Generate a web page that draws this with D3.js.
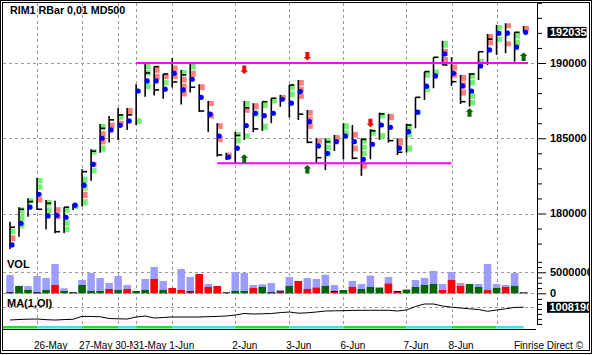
<!DOCTYPE html>
<html>
<head>
<meta charset="utf-8">
<script src="https://cdn.jsdelivr.net/npm/d3@7"></script>
<style>
  body { margin: 0; background: #fff; }
  svg { display: block; }
  text { font-family: "Liberation Sans", Arial, sans-serif; }
</style>
</head>
<body>
<div id="chart"></div>
<script>
// sessions (first bar index of each day) and their labels
const sessionStart = [0, 3, 8, 12, 14, 18, 25, 31, 37, 44, 49, 54];
const sessionLabel = ["", "26-May", "27-May", "30-May", "31-May", "1-Jun", "2-Jun", "3-Jun", "6-Jun", "7-Jun", "8-Jun", ""];

// price bars
const highs = [179460, 180420, 181010, 182360, 180900, 180850, 180420, 180630, 182940, 184270,
  185950, 186480, 187010, 187010, 188590, 189980, 189760, 189270, 190320, 189540,
  189980, 188590, 187480, 186000, 184040, 185420, 187480, 187330, 187430, 187660,
  187880, 188540, 188870, 186880, 184990, 184990, 185220, 186000, 185880, 184990,
  185600, 186700, 186620, 184990, 185950, 187720, 189430, 190380, 191470, 190380,
  189210, 189320, 190750, 191930, 192530, 192640, 192040, 192460];
const lows = [177640, 178460, 179790, 180240, 178950, 178690, 178690, 180240, 180460, 182180,
  184040, 184710, 184890, 185550, 185880, 187760, 187840, 187630, 188380, 187250,
  188040, 186750, 185420, 183780, 183560, 183340, 184890, 185400, 185490, 186000,
  187100, 186380, 186220, 184670, 183340, 182890, 184160, 183600, 183600, 182500,
  183600, 184890, 184710, 183890, 184040, 185660, 187550, 188320, 189870, 188480,
  187280, 187100, 188870, 189870, 190540, 190650, 190090, 192035];
const closeTicks = [179090, 180280, 180790, 180280, 180680, 178790, 180420, null, 182780, 184140,
  185660, 186220, 186550, 186550, null, 189340, 188210, 189270, 188740, 189210,
  188390, 186810, null, 183890, null, 185190, 187030, 185620, 187430, 187660,
  null, 188540, 186600, 184730, 183710, 184770, null, null, 183670, 184930,
  185490, 186620, 184840, 184070, 185880, 187720, 189430, 190380, 189870, 188760,
  187430, 189270, 190750, 191580, null, null, 192040, null];
const openTicks = closeTicks.map(() => null);
openTicks[16] = 189760;
openTicks[20] = 189980;
const dots = [177910, 179350, 180420, 181280, 179840, 179880, 179750, 180550, 181880, 183270,
  185000, 185550, 185860, 186150, 188140, 188810, 188810, 188260, 189320, 188210,
  188920, 187720, 186600, 185150, 183740, 184340, 185840, 186660, 186500, 186660,
  187590, 187330, 188100, 186100, 184490, 184000, 184770, 185150, 184770, 183600,
  184600, 185880, 185730, 184340, 185440, 186730, 188460, 189140, 190600, 189320,
  188480, 188140, 189800, 190870, 191980, 191980, 191050, 192035];
// cells from high to low: g = up, p = down, - = empty
const profile = ["-gp-", "ggg-", "g--", "gg-p-", "gg--", "-pp--", "g-gg", "g", "-ggpg", "g-pg-",
  "gppg", "-p--", "-gp--", "p--", "-----g", "gg-g-", "pp--", "pg--", "-pp-", "gppp-",
  "gp--", "p---", "p-p--", "p-p--", "p", "gg---", "gp---g", "pg--", "g--g", "g---",
  "p-", "gg---", "ppp---", "ppp--", "p---", "ggg--", "p-", "gg---", "-p-p-", "ggg-p-",
  "g---", "g--g", "p---", "p-", "gg-g", "--g--", "g-g-", "--g--", "gpp", "-pp-",
  "ppp-", "gg-gg", "-g--", "pp---", "ggg--", "p--p-", "gg--", "p"];

// volume, millions
const volume = [4.37, 1.75, 1.75, 4.13, 3.65, 6.98, 1.19, 0.2, 3.17, 4.84,
  3.65, 2.46, 4.13, 1.98, 0.56, 3.41, 6.27, 2.94, 1.27, 5.79,
  3.89, 4.6, 2.22, 1.75, 0, 5.08, 4.84, 1.98, 2.14, 2.46,
  0.79, 3.89, 2.94, 3.65, 3.41, 4.44, 1.98, 0.79, 2.94, 2.22,
  4.21, 1.51, 3.89, 0.56, 1.03, 3.17, 3.65, 5.32, 2.22, 5.08,
  2.46, 2.22, 2.22, 6.98, 2.22, 1.98, 4.84, 0];
const volDelta = [0, 1.75, 0.79, 0, 0.79, -1.98, 0.56, 0, 1.98, 0.56,
  0.56, -1.03, 0.79, -1.03, 0.56, 0.79, -3.41, 0.79, -1.27, -0.79,
  -0.24, -4.6, -1.51, -1.75, 0, 0.56, 0.56, -1.27, 1.51, 0,
  -0.24, 1.75, -2.94, -1.03, -1.35, 1.75, -0.32, 0.79, -1.51, 1.03,
  1.51, 1.27, -2.3, -0.32, 0.79, 1.51, 1.98, 2.22, -0.79, -3.17,
  -1.75, 2.22, 1.51, -0.79, 1.27, -1.51, 1.75, 0];

// MA(1,OI)
const openInterest = [982790, 983790, 984390, 984790, 983390, 982790, 983590, 984190, 990190, 989790,
  989390, 985790, 985190, 984790, 988790, 990790, 986790, 987790, 988790, 988790,
  988790, 988790, 989390, 989990, 990790, 992790, 995790, 994790, 995190, 995790,
  997590, 998790, 996390, 997190, 998790, 1000790, 1001190, 1001390, 1001990, 1002190,
  1002190, 1002190, 1002190, 1000790, 1002790, 1009790, 1014790, 1014790, 1010790, 1008390,
  1006790, 1005190, 1003790, 1000190, 1002790, 1005190, 1007990, 1008190];

const sellArrows = [{bar: 26, price: 189270}, {bar: 33, price: 190160}, {bar: 40, price: 185730}];
const buyArrows = [{bar: 26, price: 183940}, {bar: 33, price: 183230}, {bar: 51, price: 186990}, {bar: 57, price: 190690}];
const levels = [{price: 190000, from: 14, to: 57.5}, {price: 183340, from: 23, to: 49}];

const lastPrice = 192035, lastOI = 1008190;

const width = 592, height = 355;
const pLeft = 3, pRight = 537.5, pTop = 3, gridBottom = 326;
const gridColor = "#999";

const svg = d3.select("#chart").append("svg")
  .attr("width", width).attr("height", height);

const defs = svg.append("defs");
defs.append("clipPath").attr("id", "clipR")
  .append("rect").attr("x", 0).attr("y", 0).attr("width", 589).attr("height", height);

const x = d3.scaleLinear().domain([0, 57]).range([10, 523.6]);
const yPrice = d3.scaleLinear().domain([180000, 190000]).range([213.5, 63]);
const yVol = d3.scaleLinear().domain([0, 5]).range([293.3, 272.3]);
const yOI = d3.scaleLinear().domain([lastOI - 20000, lastOI + 20000]).range([317.3, 297.3]);

//grille
const grid = svg.append("g").attr("stroke", gridColor).attr("stroke-dasharray", "3,3");
grid.selectAll("line.v")
  .data(sessionStart.slice(1))
  .enter().append("line")
  .attr("x1", d => Math.round(x(d)) + 0.5).attr("x2", d => Math.round(x(d)) + 0.5)
  .attr("y1", pTop).attr("y2", gridBottom);
const hLines = [180000, 185000, 190000].map(p => yPrice(p))
  .concat([yVol(0), yVol(5), yOI(lastOI)]);
grid.selectAll("line.h")
  .data(hLines)
  .enter().append("line")
  .attr("x1", pLeft).attr("x2", pRight)
  .attr("y1", d => Math.round(d) + 0.5).attr("y2", d => Math.round(d) + 0.5);

//volume
const idx = d3.range(volume.length);
svg.append("g").selectAll("rect")
  .data(idx.filter(i => volume[i] > 0))
  .enter().append("rect")
  .attr("x", i => x(i) - 3.75).attr("width", 7.5)
  .attr("y", i => yVol(volume[i])).attr("height", i => yVol(0) - yVol(volume[i]))
  .attr("fill", "#9d9dff");
svg.append("g").selectAll("rect")
  .data(idx.filter(i => volDelta[i] !== 0))
  .enter().append("rect")
  .attr("x", i => x(i) - 3.75).attr("width", 7.5)
  .attr("y", i => yVol(Math.abs(volDelta[i]))).attr("height", i => yVol(0) - yVol(Math.abs(volDelta[i])))
  .attr("fill", i => volDelta[i] > 0 ? "#006600" : "#ff0000");
svg.append("g").selectAll("line")
  .data(idx.filter(i => volDelta[i] === 0 || Math.abs(volDelta[i]) < 0.4))
  .enter().append("line")
  .attr("x1", i => x(i) - 3.75).attr("x2", i => x(i) + 3.75)
  .attr("y1", i => yVol(Math.abs(volDelta[i])) - 0.5).attr("y2", i => yVol(Math.abs(volDelta[i])) - 0.5)
  .attr("stroke", "#000").attr("stroke-width", 1);

//cellules
const cells = [];
profile.forEach((s, i) => {
  const t = yPrice(highs[i]), b = yPrice(lows[i]);
  const step = (b - t) / s.length;
  s.split("").forEach((c, k) => {
    if (c !== "-") cells.push({i, y: t + k * step, h: Math.max(1.5, step - 1), c});
  });
});
svg.append("g").selectAll("rect")
  .data(cells)
  .enter().append("rect")
  .attr("x", d => x(d.i) + 0.5).attr("width", 5)
  .attr("y", d => d.y).attr("height", d => d.h)
  .attr("fill", d => d.c === "g" ? "#74f074" : "#ff7f7f");

//barres
const bars = svg.append("g").attr("stroke", "#000").attr("stroke-width", 1.6);
bars.selectAll("line.hl")
  .data(idx)
  .enter().append("line")
  .attr("x1", i => x(i)).attr("x2", i => x(i))
  .attr("y1", i => yPrice(highs[i])).attr("y2", i => yPrice(lows[i]));
bars.selectAll("line.c")
  .data(idx.filter(i => closeTicks[i] !== null))
  .enter().append("line")
  .attr("x1", i => x(i)).attr("x2", i => x(i) + 5)
  .attr("y1", i => yPrice(closeTicks[i])).attr("y2", i => yPrice(closeTicks[i]));
bars.selectAll("line.o")
  .data(idx.filter(i => openTicks[i] !== null))
  .enter().append("line")
  .attr("x1", i => x(i)).attr("x2", i => x(i) + 5)
  .attr("y1", i => yPrice(openTicks[i])).attr("y2", i => yPrice(openTicks[i]));

svg.append("g").selectAll("circle")
  .data(idx)
  .enter().append("circle")
  .attr("cx", i => x(i) + 2).attr("cy", i => yPrice(dots[i]))
  .attr("r", 2.6).attr("fill", "#0000ff");

//niveaux
svg.append("g").selectAll("line")
  .data(levels)
  .enter().append("line")
  .attr("x1", d => x(d.from)).attr("x2", d => x(d.to))
  .attr("y1", d => yPrice(d.price)).attr("y2", d => yPrice(d.price))
  .attr("stroke", "#ff00ff").attr("stroke-width", 2);

//fleches
const downArrow = "M-2,-8.5h4v5h1.8L0,0L-3.8,-3.5h1.8Z";
const upArrow = "M-2,8.5h4v-5h1.8L0,0L-3.8,3.5h1.8Z";
svg.append("g").selectAll("path")
  .data(sellArrows)
  .enter().append("path")
  .attr("transform", d => `translate(${x(d.bar)},${yPrice(d.price)})`)
  .attr("d", downArrow).attr("fill", "#ff0000");
svg.append("g").selectAll("path")
  .data(buyArrows)
  .enter().append("path")
  .attr("transform", d => `translate(${x(d.bar)},${yPrice(d.price)})`)
  .attr("d", upArrow).attr("fill", "#006400");

//MA(1,OI)
svg.append("path")
  .datum(idx)
  .attr("fill", "none").attr("stroke", "#000").attr("stroke-width", 1)
  .attr("d", d3.line().x(i => x(i)).y(i => yOI(openInterest[i])));

//axe droit
svg.append("line")
  .attr("x1", pRight).attr("x2", pRight).attr("y1", pTop).attr("y2", 325)
  .attr("stroke", "#000");

function rightTicks(scale, values, majors) {
  const g = svg.append("g")
    .attr("transform", `translate(${pRight - 0.5},0)`)
    .call(d3.axisRight(scale).tickValues(values).tickSize(5).tickFormat(""));
  g.select(".domain").remove();
  g.selectAll(".tick line")
    .attr("x2", d => majors.includes(d) ? 9 : 5)
    .attr("stroke", "#000");
}
rightTicks(yPrice, d3.range(178000, 194001, 1000), [180000, 185000, 190000]);
rightTicks(yVol, d3.range(0, 7.51, 1.25), [0, 5]);
rightTicks(yOI, d3.range(975000, 1025001, 10000), []);

const labels = svg.append("g").attr("clip-path", "url(#clipR)")
  .attr("font-size", "11px").attr("font-weight", "bold");
labels.selectAll("text.p")
  .data([180000, 185000, 190000])
  .enter().append("text")
  .attr("x", 550).attr("y", d => yPrice(d)).attr("dy", "0.36em")
  .text(d => d);
labels.selectAll("text.v")
  .data([0, 5])
  .enter().append("text")
  .attr("x", 550).attr("y", d => yVol(d)).attr("dy", "0.36em")
  .text(d => d === 0 ? "0" : d3.format("d")(d * 1e6));

labels.append("rect")
  .attr("x", 547.5).attr("y", yPrice(lastPrice) - 5.5).attr("width", 39).attr("height", 11)
  .attr("fill", "#000");
labels.append("text")
  .attr("x", 550).attr("y", yPrice(lastPrice)).attr("dy", "0.36em")
  .attr("fill", "#fff").text(lastPrice);
labels.append("rect")
  .attr("x", 547).attr("y", yOI(lastOI) - 5.5).attr("width", 45).attr("height", 11)
  .attr("fill", "#000");
labels.append("text")
  .attr("x", 549.5).attr("y", yOI(lastOI)).attr("dy", "0.36em")
  .attr("fill", "#fff").text(lastOI);

//titres
svg.append("text").attr("x", 10).attr("y", 13.5)
  .attr("font-size", "10.7px").attr("font-weight", "bold")
  .text("RIM1 RBar 0,01 MD500");
svg.append("text").attr("x", 7).attr("y", 268)
  .attr("font-size", "11px").attr("font-weight", "bold")
  .text("VOL");
svg.append("text").attr("x", 7).attr("y", 306.5)
  .attr("font-size", "11px").attr("font-weight", "bold")
  .text("MA(1,OI)");

//bande des sessions
svg.append("g").selectAll("rect")
  .data(sessionStart)
  .enter().append("rect")
  .attr("x", (d, k) => k === 0 ? pLeft : x(d))
  .attr("width", (d, k) => (k === sessionStart.length - 1 ? x(57) : x(sessionStart[k + 1])) - (k === 0 ? pLeft : x(d)))
  .attr("y", 326).attr("height", 2.5)
  .attr("fill", (d, k) => k % 2 === 0 ? "#20e020" : "#3fe0e0");
svg.append("line")
  .attr("x1", pLeft).attr("x2", pRight - 1.5).attr("y1", 329.5).attr("y2", 329.5)
  .attr("stroke", "#000");

//dates : chaque libellé est coupé au début du suivant
const dates = svg.append("g").attr("font-size", "10px");
const shown = sessionStart.map((d, k) => ({d, k})).filter(o => sessionLabel[o.k]);
shown.forEach((o, j) => {
  const x0 = x(o.d) - 3;
  const x1 = j < shown.length - 1 ? x(shown[j + 1].d) - 3 : 514;
  defs.append("clipPath").attr("id", "clipD" + j)
    .append("rect").attr("x", x0 - 1).attr("y", 335).attr("width", x1 - x0 + 1).attr("height", 16);
  dates.append("text")
    .attr("clip-path", `url(#clipD${j})`)
    .attr("x", x0).attr("y", 349).text(sessionLabel[o.k]);
});
svg.append("text").attr("x", 514).attr("y", 349)
  .attr("font-size", "10px").text("Finrise Direct ©");

//cadre
svg.append("rect").attr("x", 0.5).attr("y", 0.5).attr("width", 591).attr("height", 353)
  .attr("fill", "none").attr("stroke", "#000");
svg.append("rect").attr("x", 2.5).attr("y", 2.5).attr("width", 587).attr("height", 348)
  .attr("fill", "none").attr("stroke", "#000");
</script>
</body>
</html>
